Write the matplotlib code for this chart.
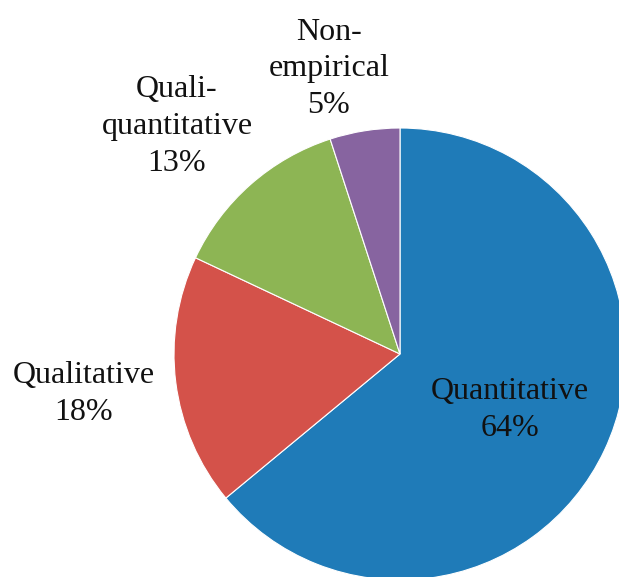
import numpy as np
import matplotlib.pyplot as plt

labels = ["Quantitative", "Qualitative", "Quali-\nquantitative", "Non-\nempirical"]
shares = [64, 18, 13, 5]
colors = ["#1f7bb8", "#d4524a", "#8db554", "#8764a0"]
label_dist = [0.545, 1.41, 1.41, 1.30]
label_shift = [-2, 0, 3, 5]  # degrees, nudge labels

plt.rcParams["font.family"] = ["Liberation Serif", "DejaVu Serif"]

W, H = 619, 577
fig = plt.figure(figsize=(W / 100, H / 100), dpi=100)
ax = fig.add_axes([0, 0, 1, 1])

cx, cy, r = 400, H - 354, 226
wedges, _ = ax.pie(
    shares, colors=colors, startangle=90, counterclock=False,
    center=(cx, cy), radius=r, frame=True,
    wedgeprops=dict(edgecolor="white", linewidth=0.8),
)
ax.set_xlim(0, W)
ax.set_ylim(0, H)
ax.set_aspect("equal")
ax.axis("off")

for w, lab, val, d, s in zip(wedges, labels, shares, label_dist, label_shift):
    ang = np.deg2rad((w.theta1 + w.theta2) / 2 + s)
    x = cx + d * r * np.cos(ang)
    y = cy + d * r * np.sin(ang)
    ax.text(x, y, f"{lab}\n{val}%", ha="center", va="center",
            fontsize=23, linespacing=1.35, color="#111111")

fig.savefig("out.png", dpi=100)
